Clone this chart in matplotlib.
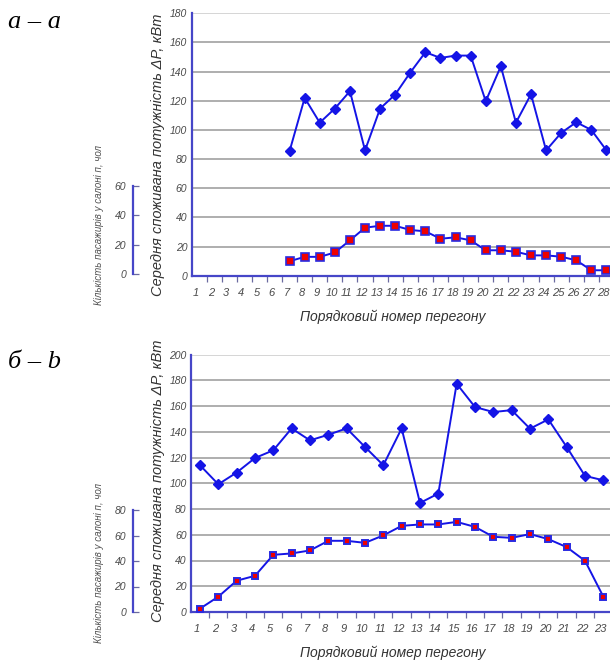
import matplotlib
matplotlib.use("Agg")
import matplotlib.pyplot as plt
import matplotlib.transforms as mtransforms
from matplotlib.ticker import FixedLocator, NullFormatter

# ---------------- data ----------------
cats_a = list(range(1, 29))
power_a_x = list(range(7, 29))
power_a = [85.5, 122, 105, 114.7, 126.6, 86, 114.7, 124.3, 139.4, 153.3, 149.4,
           151, 151, 119.7, 143.7, 105, 124.5, 86, 98, 105.3, 100, 86]
pass_a_x = list(range(7, 29))
pass_a = [10, 13, 13, 16, 24.3, 33, 34.3, 34.3, 31.4, 30.5, 25.4, 26.4, 24.3,
          17.5, 17.5, 16.5, 14, 14, 13.1, 10.6, 3.8, 3.8]

cats_b = list(range(1, 24))
power_b = [114, 99.2, 108.3, 119.6, 125.6, 142.6, 133.3, 137.7, 142.6, 128.2, 114,
           142.6, 84.7, 92, 177.3, 159.2, 155.3, 156.8, 142.4, 149.6, 128.2, 105.7, 102.3]
pass_b = [2.6, 11.9, 24.3, 28.1, 44.4, 45.5, 47.8, 55.3, 55.3, 53.7, 59.5, 66.9, 68,
          68, 70, 66.1, 58.4, 57.6, 60.5, 56.6, 50.4, 39.8, 11.9]

yticks_a = [0, 20, 40, 60, 80, 100, 120, 140, 160, 180]
yticks_b = [0, 20, 40, 60, 80, 100, 120, 140, 160, 180, 200]
pticks_a = [0, 20, 40, 60]
pticks_b = [0, 20, 40, 60, 80]

ylabel_main = "Середня споживана потужність ΔP, кВт"
ylabel_pass = "Кількість пасажирів у салоні п, чол"
xlabel = "Порядковий номер перегону"
panel_a = "а – a"
panel_b = "б – b"

# ---------------- style ----------------
W, H = 610, 663
fig = plt.figure(figsize=(W / 100, H / 100), dpi=100)
fig.patch.set_facecolor("white")

SANS = ["Liberation Sans Narrow", "Liberation Sans", "DejaVu Sans"]
LINE = "#1414e6"
SPINE = "#4646c8"
GRID = "#a8a8a8"
TXT = "#4a4a4a"


def fx(x):
    return x / W


def fy(y):
    return 1 - y / H


def rect(l, r, t, b):
    return [fx(l), fy(b), (r - l) / W, (b - t) / H]


def main_axes(r, cats, power, px, pass_vals, pass_x, yticks, ymax, sq_ms, sq_mew):
    ax = fig.add_axes(r)
    ax.set_xlim(0.5, len(cats) + 0.5)
    ax.set_ylim(0, ymax)
    for s in ("top", "right"):
        ax.spines[s].set_visible(False)
    for s in ("left", "bottom"):
        ax.spines[s].set_color(SPINE)
        ax.spines[s].set_linewidth(1.6)
    for v in yticks[1:]:
        ax.axhline(v, color=GRID if v < ymax else "#d2d2d2", lw=1.3, zorder=0)
    ax.set_yticks(yticks)
    ax.set_yticklabels([str(v) for v in yticks], fontstyle="italic",
                       family=SANS, fontsize=7.5, color=TXT)
    ax.tick_params(axis="y", length=0, pad=3)
    ax.set_xticks(cats)
    ax.set_xticklabels([str(c) for c in cats], fontstyle="italic",
                       family=SANS, fontsize=8, color=TXT)
    ax.tick_params(axis="x", which="major", length=0, pad=9)
    shift = mtransforms.ScaledTranslation(-3 / 100, 0, fig.dpi_scale_trans)
    for lab in ax.get_xticklabels():
        lab.set_transform(lab.get_transform() + shift)
    ax.xaxis.set_minor_locator(FixedLocator([c + 0.5 for c in cats[:-1]]))
    ax.xaxis.set_minor_formatter(NullFormatter())
    ax.tick_params(axis="x", which="minor", length=4, width=0.9, color="#6a6aa0",
                   direction="out")
    ax.plot(px, power, color=LINE, lw=1.4, marker="D", ms=5.5,
            mfc=LINE, mec=LINE, zorder=3, clip_on=False)
    ax.plot(pass_x, pass_vals, color=LINE, lw=1.4, marker="s", ms=sq_ms,
            mfc="#ee0000", mec="#2a2ae0", mew=sq_mew, zorder=4, clip_on=False)
    return ax


def pass_axis(x, y0, ytop, ticks):
    ax = fig.add_axes([fx(x), fy(y0), 0.0001, (y0 - ytop) / H])
    ax.set_ylim(0, ticks[-1])
    for s in ("top", "right", "bottom"):
        ax.spines[s].set_visible(False)
    ax.spines["left"].set_color(SPINE)
    ax.spines["left"].set_linewidth(1.6)
    ax.set_xticks([])
    ax.set_yticks(ticks)
    ax.set_yticklabels([str(v) for v in ticks], fontstyle="italic",
                       family=SANS, fontsize=7.5, color=TXT)
    ax.tick_params(axis="y", direction="in", length=4, width=0.9,
                   color="#6a6aa0", pad=5)
    ax.patch.set_visible(False)
    return ax


# ---------------- panel a ----------------
main_axes(rect(191.5, 614, 13.3, 275.8), cats_a, power_a, power_a_x,
          pass_a, pass_a_x, yticks_a, 180, 6, 1.2)
pass_axis(133, 274.3, 186, pticks_a)
fig.text(fx(8), fy(28), panel_a, family=["Liberation Serif", "DejaVu Serif"],
         fontstyle="italic", fontsize=19, ha="left", va="baseline", color="black")
fig.text(fx(158), fy(155), ylabel_main, rotation=90, family=SANS,
         fontstyle="italic", fontsize=10.5, ha="center", va="center", color="#333333")
fig.text(fx(99), fy(225), ylabel_pass, rotation=90, family=SANS,
         fontstyle="italic", fontsize=7, ha="center", va="center", color="#555555")
fig.text(fx(393), fy(317), xlabel, family=SANS, fontstyle="italic",
         fontsize=10, ha="center", va="center", color="#333333")

# ---------------- panel b ----------------
main_axes(rect(190.8, 612.5, 354.5, 612), cats_b, power_b, cats_b,
          pass_b, cats_b, yticks_b, 200, 5, 1.4)
pass_axis(133, 612, 510, pticks_b)
fig.text(fx(8), fy(368), panel_b, family=["Liberation Serif", "DejaVu Serif"],
         fontstyle="italic", fontsize=19, ha="left", va="baseline", color="black")
fig.text(fx(158), fy(481), ylabel_main, rotation=90, family=SANS,
         fontstyle="italic", fontsize=10.5, ha="center", va="center", color="#333333")
fig.text(fx(99), fy(563), ylabel_pass, rotation=90, family=SANS,
         fontstyle="italic", fontsize=7, ha="center", va="center", color="#555555")
fig.text(fx(393), fy(653), xlabel, family=SANS, fontstyle="italic",
         fontsize=10, ha="center", va="center", color="#333333")

fig.savefig("out.png", dpi=100, facecolor="white")
